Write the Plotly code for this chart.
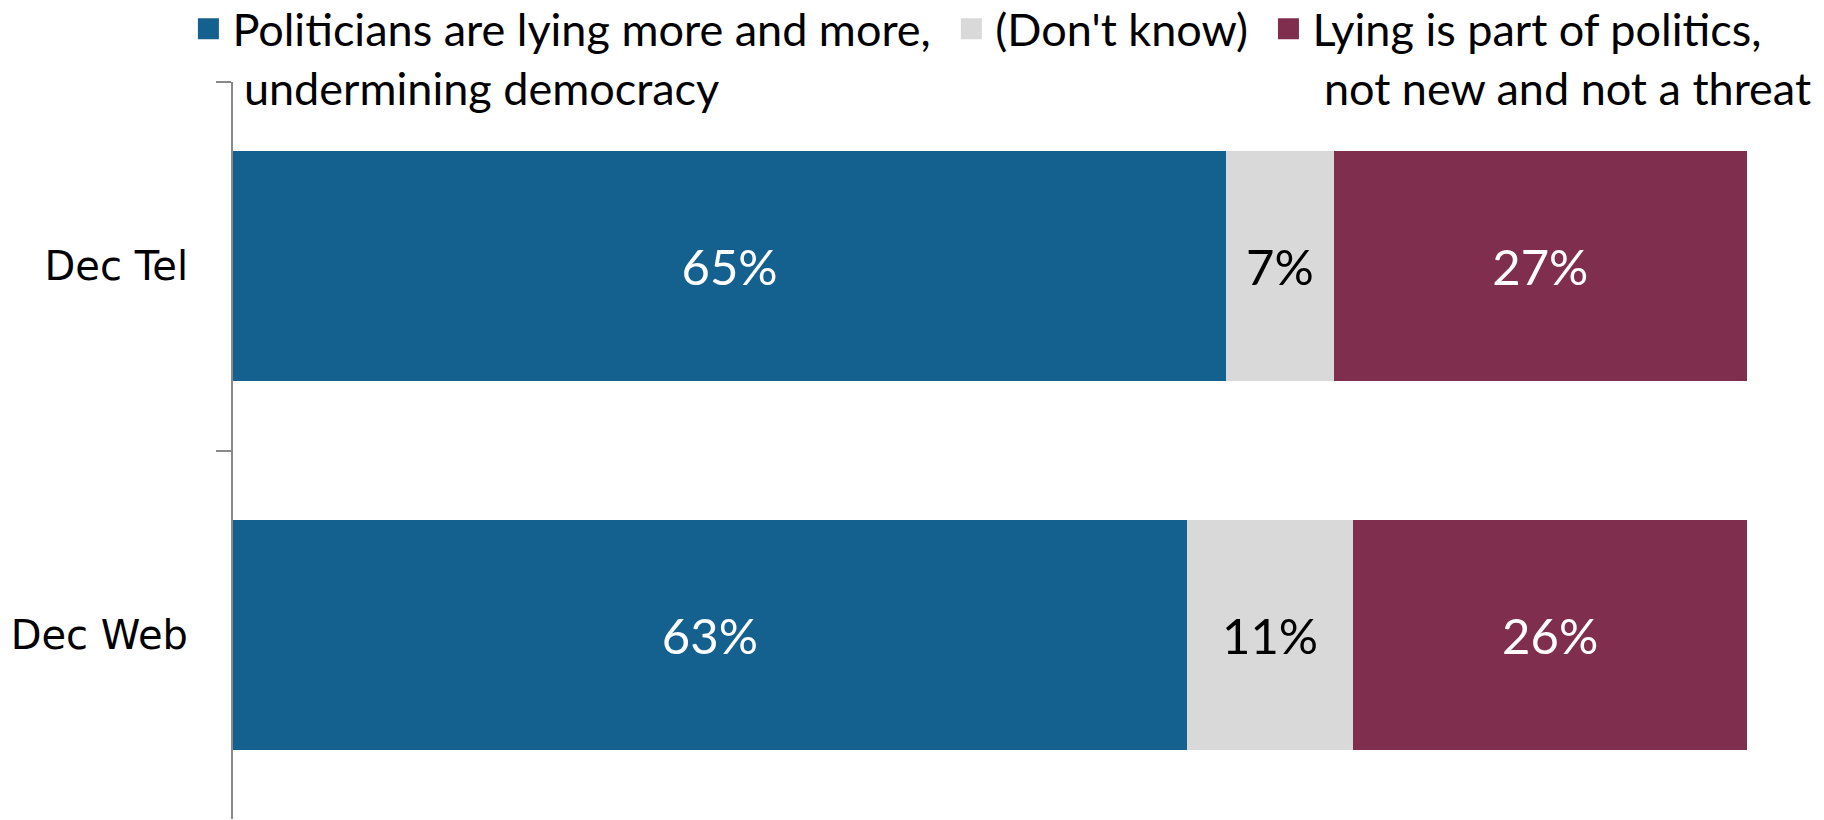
import plotly.graph_objects as go

categories = ["Dec Tel", "Dec Web"]
series_names = [
    "Politicians are lying more and more,\u00a0<br>\u00a0undermining democracy",
    "(Don't know)\u00a0",
    "Lying is part of politics,<br>\u00a0not new and not a threat",
]
# shares (percent)
lying_more = [65.6, 63.0]
dont_know = [7.1, 11.0]
part_of_politics = [27.3, 26.0]
# printed labels
lying_more_labels = ["65%", "63%"]
dont_know_labels = ["7%", "11%"]
part_of_politics_labels = ["27%", "26%"]

colors = ["#14608F", "#D9D9D9", "#7F2F4D"]
label_colors = ["white", "black", "white"]

values = [lying_more, dont_know, part_of_politics]
labels = [lying_more_labels, dont_know_labels, part_of_politics_labels]

fig = go.Figure()
for name, vals, labs, col, lcol in zip(series_names, values, labels, colors, label_colors):
    fig.add_trace(go.Bar(
        y=categories, x=vals, orientation="h", name=name,
        marker=dict(color=col, line=dict(width=0)),
        text=labs, textposition="inside", insidetextanchor="middle",
        textangle=0, textfont=dict(family="Lato", size=49, color=lcol),
        hoverinfo="skip", showlegend=False, legendgroup=name,
    ))
for name, col in zip(series_names, colors):
    fig.add_trace(go.Scatter(
        x=[None], y=[None], mode="markers", name=name, legendgroup=name,
        marker=dict(symbol="square", size=16, color=col, line=dict(color=col, width=5)),
        showlegend=True, hoverinfo="skip",
    ))

fig.update_layout(
    width=1824, height=820,
    barmode="stack", bargap=0.375,
    plot_bgcolor="white", paper_bgcolor="white",
    margin=dict(l=233, r=77, t=82, b=1, autoexpand=False),
    showlegend=True,
    legend=dict(
        orientation="h", xref="paper", yref="paper",
        x=-0.0321, y=1.1208, xanchor="left", yanchor="top", valign="top",
        itemwidth=38,
        font=dict(family="Lato", size=45, color="black"),
        bgcolor="rgba(0,0,0,0)", itemclick=False, itemdoubleclick=False,
    ),
    xaxis=dict(range=[0, 100], visible=False, fixedrange=True),
    yaxis=dict(
        type="category", categoryorder="array", categoryarray=categories,
        autorange="reversed", showgrid=False, zeroline=False,
        showline=True, linecolor="#898989", linewidth=2,
        ticks="outside", ticklen=15, tickwidth=2, tickcolor="#898989",
        tickson="boundaries", ticklabelstandoff=35,
        tickfont=dict(family="DejaVu Sans", size=40, color="black"),
        fixedrange=True,
    ),
    hovermode=False,
)

fig.write_html(
    "out.html",
    config={"displayModeBar": False, "staticPlot": False},
    post_script="document.body.style.margin='0';document.body.style.overflow='hidden';",
)
